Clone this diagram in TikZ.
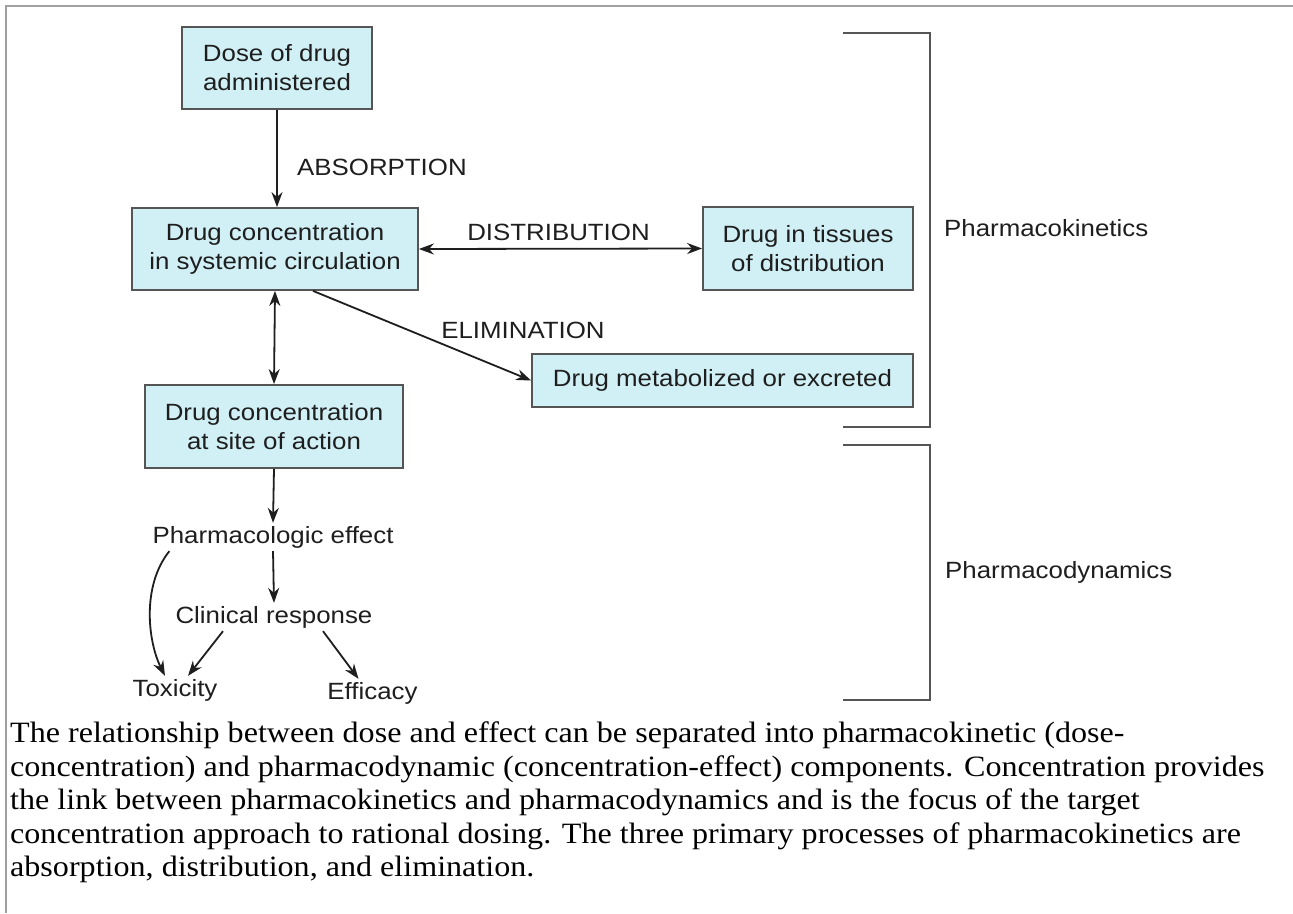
\documentclass[tikz,border=0pt]{standalone}
\usepackage{fontspec}
\setmainfont{Liberation Serif}[FakeStretch=1.088]
\newfontfamily\labelfont{Liberation Sans}[FakeStretch=1.10]
\usetikzlibrary{arrows.meta}
\definecolor{boxfill}{RGB}{208,240,246}
\definecolor{boxline}{RGB}{85,85,85}
\definecolor{framegray}{RGB}{160,160,160}
\definecolor{ink}{RGB}{30,30,30}

\begin{document}
\begin{tikzpicture}[x=1pt,y=-1pt,
    every node/.style={font=\labelfont\fontsize{23.5}{29}\selectfont, text=ink},
    stage/.style={draw=boxline, line width=1.8pt, fill=boxfill, align=center, inner sep=0pt},
    link/.style={draw=ink, line width=1.8pt, -{Stealth[length=15pt,width=11pt]}},
    twoway/.style={draw=ink, line width=1.8pt, {Stealth[length=15pt,width=11pt]}-{Stealth[length=15pt,width=11pt]}},
    bracket/.style={draw=boxline, line width=2pt}]
                    \useasboundingbox (0,0) rectangle (1293,913);
                    \fill[white] (0,0) rectangle (1293,913);
                    % Frame
                    \draw[framegray, line width=2pt] (6,913) -- (6,6) -- (1293,6);
                    % Boxes
                    \node[stage, minimum width=190pt, minimum height=82pt] (dose) at (277,68) {Dose of drug\\administered};
                    \node[stage, minimum width=286pt, minimum height=82pt] (circ) at (275,249) {Drug concentration\\in systemic circulation};
                    \node[stage, minimum width=210pt, minimum height=83pt] (tissue) at (808,248.5) {Drug in tissues\\of distribution};
                    \node[stage, minimum width=381pt, minimum height=53pt] (excr) at (722.5,380.5) {Drug metabolized or excreted};
                    \node[stage, minimum width=258pt, minimum height=83pt] (site) at (274,426.5) {Drug concentration\\at site of action};
                    % Labels
                    \node[anchor=west, inner sep=0pt] (absorb) at (297,167) {ABSORPTION};
                    \node[inner sep=0pt] (distrib) at (558.5,232) {DISTRIBUTION};
                    \node[inner sep=0pt] (elim) at (523,330) {ELIMINATION};
                    % Effects
                    \node[inner sep=3pt] (effect) at (273,537) {Pharmacologic effect};
                    \node[inner sep=3pt] (clinic) at (274,617) {Clinical response};
                    \node[inner sep=3pt] (tox) at (175,690) {Toxicity};
                    \node[inner sep=3pt] (eff) at (372.5,693) {Efficacy};
                    % Sides
                    \node[anchor=west, inner sep=0pt] (kinetics) at (944,228) {Pharmacokinetics};
                    \node[anchor=west, inner sep=0pt] (dynamics) at (945,572) {Pharmacodynamics};
                    \draw[bracket] (843,33) -- (930,33) -- (930,427) -- (843,427);
                    \draw[bracket] (843,445) -- (930,445) -- (930,700) -- (843,700);
                    % Links
                    \draw[link] (dose.south) -- (dose.south |- circ.north);
                    \draw[twoway] (circ.east) -- (tissue.west);
                    \draw[link] ([xshift=38pt]circ.south) -- (excr.west);
                    \draw[twoway] (circ.south) -- (site.north);
                    \draw[link] (site.south) -- (effect.north);
                    \draw[link] (effect.south) -- (clinic.north);
                    \draw[link] ([xshift=20pt]effect.south west) .. controls +(-28,35) and +(-17,-34) .. ([xshift=-10pt]tox.north);
                    \draw[link] ([xshift=-51pt]clinic.south) -- ([xshift=13pt]tox.north);
                    \draw[link] ([xshift=49pt]clinic.south) -- ([xshift=-14pt]eff.north);
                    % Caption
                    \node[font=\rmfamily\fontsize{29.5}{33.5}\selectfont, text=black, align=left, anchor=north west, inner sep=0pt] (caption) at (10,722)
                        {The relationship between dose and effect can be separated into pharmacokinetic (dose-\\
                         concentration) and pharmacodynamic (concentration-effect) components. Concentration provides\\
                         the link between pharmacokinetics and pharmacodynamics and is the focus of the target\\
                         concentration approach to rational dosing. The three primary processes of pharmacokinetics are\\
                         absorption, distribution, and elimination.};
                \end{tikzpicture}
\end{document}
